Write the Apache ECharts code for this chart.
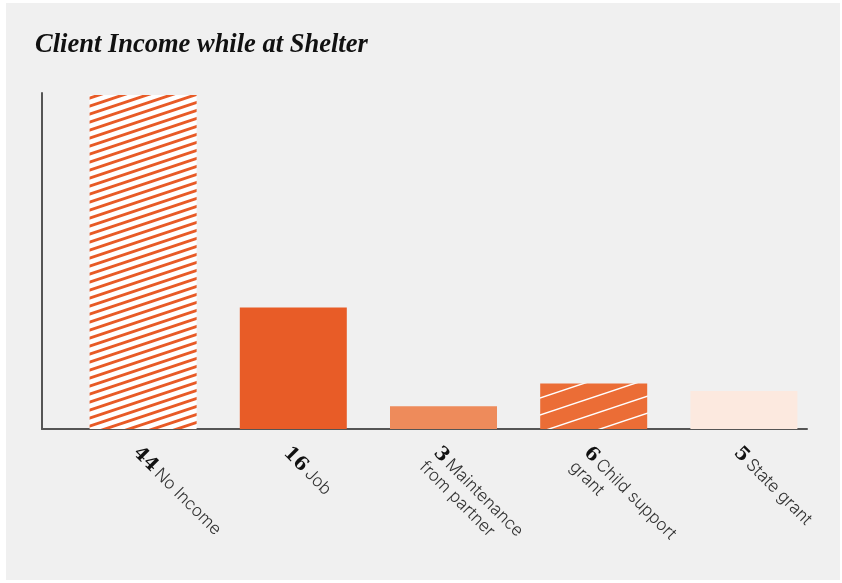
<!DOCTYPE html>
<html>
<head>
<meta charset="utf-8">
<script src="https://cdn.jsdelivr.net/npm/echarts@6/dist/echarts.min.js"></script>
<style>
  html, body { margin: 0; padding: 0; background: #ffffff; }
  #frame { position: absolute; left: 6px; top: 3px; width: 834px; height: 577px; background: #f0f0f0; }
  #chart { position: absolute; left: 0; top: 0; width: 842px; height: 583px; }
</style>
</head>
<body>
<div id="frame"></div>
<div id="chart"></div>
<script>
// Income sources reported by clients during their stay
const categories = ['No Income', 'Job', 'Maintenance\nfrom partner', 'Child support\ngrant', 'State grant'];
const clientCounts = [44, 16, 3, 6, 5];
const titleText = 'Client Income while at Shelter';

// Diagonal stripe tile (slope 1:3) used as a repeating bar fill
function stripes(bg, fg, period, lineW) {
  const w = period * 3, h = period;
  const c = document.createElement('canvas');
  c.width = w; c.height = h;
  const g = c.getContext('2d');
  g.fillStyle = bg;
  g.fillRect(0, 0, w, h);
  g.strokeStyle = fg;
  g.lineWidth = lineW;
  for (let k = -1; k <= 1; k++) {
    g.beginPath();
    g.moveTo(-w, 2 * h + k * h);
    g.lineTo(2 * w, -h + k * h);
    g.stroke();
  }
  return { image: c, repeat: 'repeat' };
}

const barFills = [
  stripes('#ffffff', '#e85a26', 8, 2.9),
  '#e85c27',
  '#ee8b5b',
  stripes('#eb6d36', '#ffffff', 17, 1.4),
  '#fce9df'
];

const chart = echarts.init(document.getElementById('chart'), null, { renderer: 'canvas' });

chart.setOption({
  backgroundColor: 'transparent',
  animation: false,
  title: {
    text: titleText,
    left: 30,
    top: 27,
    textStyle: {
      fontFamily: 'Liberation Serif',
      fontStyle: 'italic',
      fontWeight: 'bold',
      fontSize: 26.5,
      color: '#111111'
    }
  },
  grid: [
    // bars
    { left: 68, width: 751, top: 93, bottom: 154 },
    // axis frame
    { left: 42, right: 35, top: 93, bottom: 154 }
  ],
  xAxis: [
    {
      type: 'category',
      gridIndex: 0,
      data: categories,
      axisLine: { show: false },
      axisTick: { show: false },
      axisLabel: {
        rotate: -45,
        margin: 14,
        interval: 0,
        verticalAlign: 'top',
        formatter: function (name, idx) {
          const lines = name.split('\n');
          let s = '{n|' + clientCounts[idx] + '} {t|' + lines[0] + '}';
          for (let i = 1; i < lines.length; i++) s += '\n{t|' + lines[i] + '}';
          return s;
        },
        rich: {
          n: { fontFamily: 'DejaVu Serif', fontWeight: 'bold', fontSize: 19, color: '#111111', lineHeight: 20 },
          t: { fontFamily: 'Inter', fontWeight: 300, fontSize: 17, color: '#333333', lineHeight: 20 }
        }
      }
    },
    {
      type: 'category',
      gridIndex: 1,
      data: [],
      axisLine: { show: true, lineStyle: { color: '#555555', width: 2 } },
      axisTick: { show: false },
      axisLabel: { show: false }
    }
  ],
  yAxis: [
    {
      type: 'value',
      gridIndex: 0,
      min: 0,
      max: 44.26,
      show: false
    },
    {
      type: 'value',
      gridIndex: 1,
      min: 0,
      max: 1,
      axisLine: { show: true, lineStyle: { color: '#555555', width: 2 } },
      axisTick: { show: false },
      axisLabel: { show: false },
      splitLine: { show: false }
    }
  ],
  series: [{
    type: 'bar',
    xAxisIndex: 0,
    yAxisIndex: 0,
    barWidth: 107,
    data: clientCounts.map(function (v, i) {
      return { value: v, itemStyle: { color: barFills[i] } };
    })
  }]
});
</script>
</body>
</html>
